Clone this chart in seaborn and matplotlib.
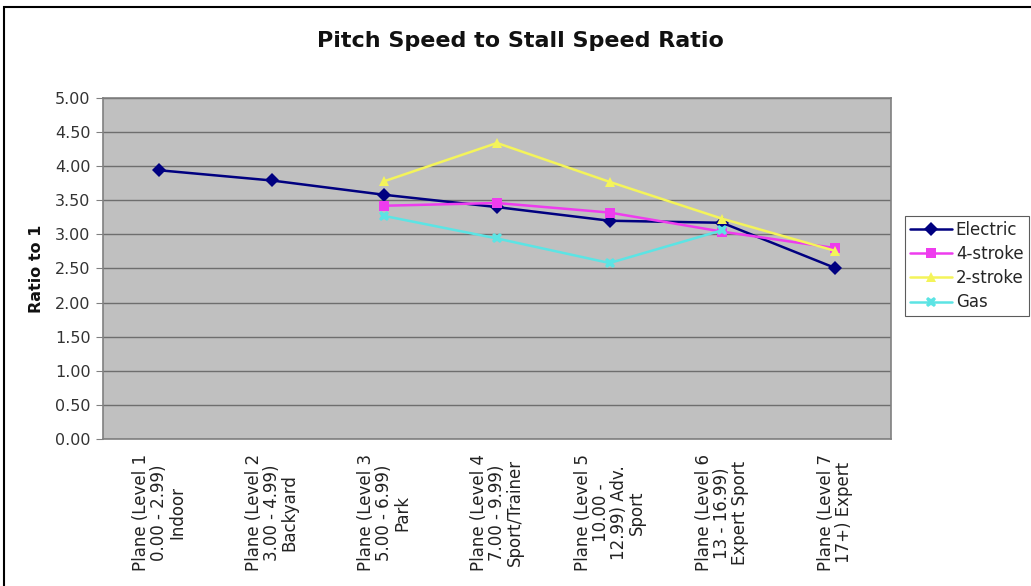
import numpy as np
import pandas as pd
import matplotlib
matplotlib.use("Agg")
import matplotlib.pyplot as plt
from matplotlib.patches import Rectangle
from matplotlib.ticker import FixedLocator, NullFormatter
import seaborn as sns

# categories (x axis)
levels = [
    "Plane (Level 1\n0.00 - 2.99)\nIndoor",
    "Plane (Level 2\n3.00 - 4.99)\nBackyard",
    "Plane (Level 3\n5.00 - 6.99)\nPark",
    "Plane (Level 4\n7.00 - 9.99)\nSport/Trainer",
    "Plane (Level 5\n10.00 -\n12.99) Adv.\nSport",
    "Plane (Level 6\n13 - 16.99)\nExpert Sport",
    "Plane (Level 7\n17+) Expert",
]
electric = [3.94, 3.79, 3.58, 3.40, 3.20, 3.17, 2.51]
four_stroke = [np.nan, np.nan, 3.42, 3.46, 3.32, 3.04, 2.80]
two_stroke = [np.nan, np.nan, 3.78, 4.34, 3.77, 3.23, 2.76]
gas = [np.nan, np.nan, 3.27, 2.94, 2.58, 3.06, np.nan]
series_names = ["Electric", "4-stroke", "2-stroke", "Gas"]
y_ticks = [0, 0.5, 1, 1.5, 2, 2.5, 3, 3.5, 4, 4.5, 5]

rows = []
for name, vals in zip(series_names, [electric, four_stroke, two_stroke, gas]):
    for i, v in enumerate(vals):
        if not np.isnan(v):
            rows.append({"level": i, "ratio": v, "engine": name})
df = pd.DataFrame(rows)

palette = {"Electric": "#000080", "4-stroke": "#EE3CEE",
           "2-stroke": "#F4F45A", "Gas": "#5CE4E4"}
markers = {"Electric": "D", "4-stroke": "s", "2-stroke": "^", "Gas": "X"}

sns.set_style("white")
plt.rcParams["font.family"] = ["DejaVu Sans"]

fig = plt.figure(figsize=(10.31, 5.86), dpi=100)
ax = fig.add_axes([0.0999, 0.2509, 0.7643, 0.5819])
ax.set_facecolor("#C0C0C0")

sns.lineplot(data=df, x="level", y="ratio", hue="engine", style="engine",
             hue_order=series_names, style_order=series_names,
             palette=palette, markers=markers, dashes=False,
             markersize=7.5, markeredgewidth=0, linewidth=1.8,
             ax=ax, legend=True)

ax.set_xlim(-0.5, len(levels) - 0.5)
ax.set_ylim(0, 5)
ax.set_yticks(y_ticks)
ax.set_yticklabels([f"{t:.2f}" for t in y_ticks], fontsize=11.5, color="#333333")
ax.yaxis.grid(True, color="#6E6E6E", linewidth=1)
ax.set_axisbelow(True)

ax.set_xticks(range(len(levels)))
ax.set_xticklabels(levels, rotation=90, fontsize=12, ha="center", va="top",
                   multialignment="center", linespacing=1.0, color="#222222")
ax.tick_params(axis="x", which="major", length=0, pad=11)
ax.xaxis.set_minor_locator(FixedLocator(np.arange(-0.5, len(levels), 1)))
ax.xaxis.set_minor_formatter(NullFormatter())
ax.tick_params(axis="x", which="minor", length=5, color="#808080", direction="out")
ax.tick_params(axis="y", length=5, color="#808080", direction="out", left=True, pad=4)

for s in ax.spines.values():
    s.set_color("#808080")
    s.set_linewidth(1.2)

ax.set_xlabel("")
ax.set_ylabel("Ratio to 1", fontsize=11.5, fontweight="bold", labelpad=8, color="#111111")
fig.text(0.505, 1 - 41 / 586, "Pitch Speed to Stall Speed Ratio",
         ha="center", va="center", fontsize=16, fontweight="bold", color="#111111")

handles, labels = ax.get_legend_handles_labels()
ax.get_legend().remove()
leg = fig.legend(handles, labels, loc="upper left",
                 bbox_to_anchor=(905 / 1031, 1 - 216 / 586),
                 fontsize=12, frameon=True, fancybox=False,
                 borderpad=0.3, labelspacing=0.37, handlelength=2.5,
                 handletextpad=0.25, borderaxespad=0)
leg.get_frame().set_edgecolor("#333333")
leg.get_frame().set_linewidth(0.8)

fig.patches.append(Rectangle((4 / 1031, -0.1), 1.2, 1.1 - 7 / 586,
                             transform=fig.transFigure, fill=False,
                             edgecolor="black", linewidth=1.5))

fig.savefig("out.png", dpi=100)
